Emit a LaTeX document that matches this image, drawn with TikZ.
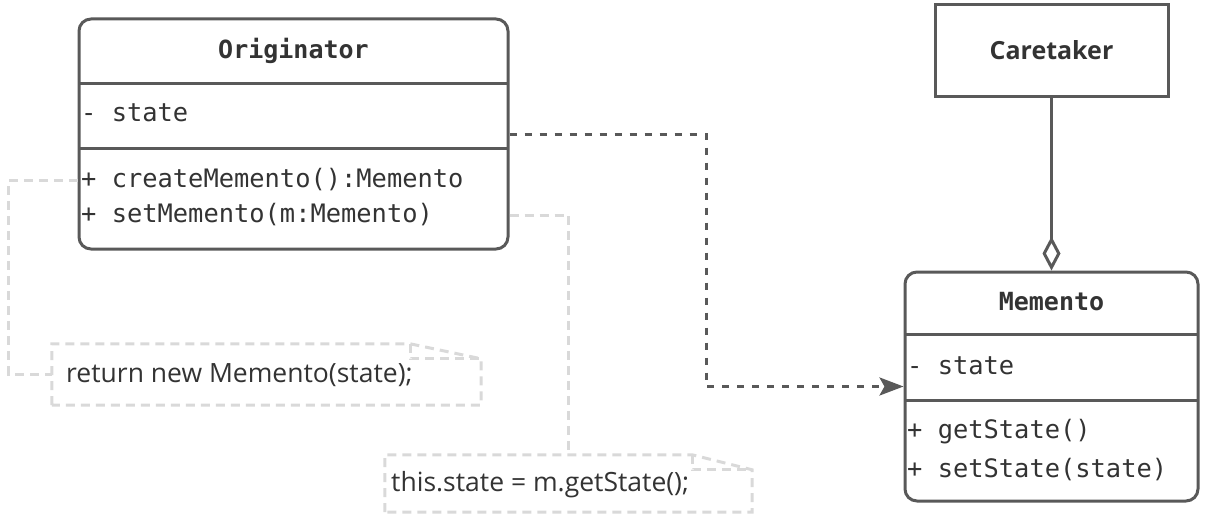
\documentclass[tikz,border=0pt]{standalone}
\usepackage{fontspec}
\usetikzlibrary{arrows.meta,calc}
\newfontfamily\umlmono{DejaVu Sans Mono}
\newfontfamily\umlsans{Open Sans}
\definecolor{umlline}{HTML}{595959}
\definecolor{umltext}{HTML}{333333}
\definecolor{umlnote}{HTML}{D9D9D9}
\tikzset{
  classbox/.style={draw=umlline,line width=3pt,rounded corners=12pt,inner sep=0pt},
  plainbox/.style={draw=umlline,line width=3pt,inner sep=0pt},
  sepline/.style={draw=umlline,line width=3pt},
  classname/.style={inner sep=0pt,text=umltext,font=\umlmono\bfseries\fontsize{25}{30}\selectfont},
  member/.style={anchor=west,inner sep=0pt,text=umltext,font=\umlmono\fontsize{25.4}{30}\selectfont},
  notebox/.style={draw=none,inner sep=0pt},
  noteline/.style={draw=umlnote,line width=3pt,dash pattern=on 9pt off 6pt},
  notetext/.style={anchor=west,inner sep=0pt,text=umltext,font=\umlsans\fontsize{26.5}{30}\selectfont},
  dependency/.style={draw=umlline,line width=3pt,dash pattern=on 7pt off 8pt,-{Stealth[length=24pt,width=18pt,inset=5pt]}},
  aggregation/.style={draw=umlline,line width=3pt,{Diamond[open,length=34pt,width=18pt]}-}
}
\begin{document}
\begin{tikzpicture}[x=1pt,y=1pt]
    \useasboundingbox (0,0) rectangle (1210,-519);
    % originator
    \node[classbox,minimum width=429pt,minimum height=230pt] (orig) at (293.5,-134) {};
    \draw[sepline] (79,-83) -- (508,-83);
    \draw[sepline] (79,-148) -- (508,-148);
    \node[classname] (origname) at (293.5,-51) {Originator};
    \node[member] (origstate) at (81,-113) {- state};
    \node[member] (create) at (81,-180) {+ createMemento():Memento};
    \node[member] (setmem) at (81,-215) {+ setMemento(m:Memento)};
    % caretaker
    \node[plainbox,minimum width=233pt,minimum height=91pt,
        text=umltext,font=\umlsans\bfseries\fontsize{25}{30}\selectfont] (care) at (1051.5,-50.5) {Caretaker};
    % memento
    \node[classbox,minimum width=293pt,minimum height=229pt] (mem) at (1051.5,-386.5) {};
    \draw[sepline] (905,-334) -- (1198,-334);
    \draw[sepline] (905,-400) -- (1198,-400);
    \node[classname] (memname) at (1051.5,-302) {Memento};
    \node[member] (memstate) at (907,-366) {- state};
    \node[member] (getst) at (907,-432) {+ getState()};
    \node[member] (setst) at (907,-470) {+ setState(state)};
    % notes
    \node[notebox,minimum width=429pt,minimum height=61pt] (note1) at (266.5,-374.5) {};
    \draw[noteline] (note1.south west) -- (note1.north west)
        -- ($(note1.north east)+(-71,0)$) coordinate (fold1) -- ($(note1.north east)+(0,-15)$)
        -- (note1.south east) -- cycle;
    \draw[noteline] (fold1) -- ++(0,-15) -- ++(71,0);
    \node[notetext] (ret) at (66,-375) {return new Memento(state);};
    \node[notebox,minimum width=367pt,minimum height=57pt] (note2) at (568.5,-483.5) {};
    \draw[noteline] (note2.south west) -- (note2.north west)
        -- ($(note2.north east)+(-60,0)$) coordinate (fold2) -- ($(note2.north east)+(0,-15)$)
        -- (note2.south east) -- cycle;
    \draw[noteline] (fold2) -- ++(0,-15) -- ++(60,0);
    \node[notetext] (assign) at (391,-485) {this.state = m.getState();};
    % connectors
    \coordinate (bend) at (706,-134);
    \draw[dependency] (orig.east) -- (bend) |- (mem.west);
    \draw[aggregation] (mem.north) -- (care.south);
    \draw[noteline] (orig.west |- create.west) -- ++(-69,0) |- (note1.west);
    \draw[noteline] (orig.east |- setmem.west) -| (note2.north);
\end{tikzpicture}
\end{document}
